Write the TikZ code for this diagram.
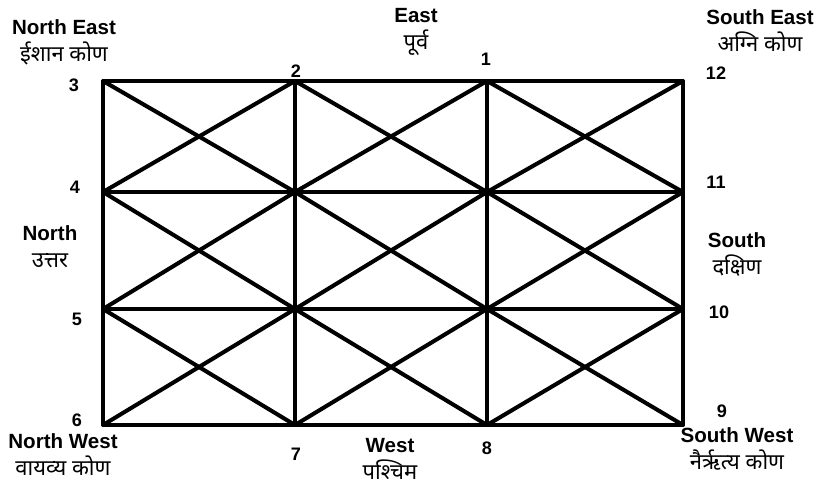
\documentclass[tikz,border=0pt]{standalone}
\usepackage{fontspec}
\setmainfont{Liberation Sans}
\newfontfamily\hindi[Script=Devanagari]{Noto Sans}
\usetikzlibrary{positioning}

\tikzset{
  num/.style={font=\bfseries\fontsize{10.3}{12}\selectfont, inner sep=0pt},
  dirlabel/.style={anchor=north, align=center, inner sep=0pt,
    font=\bfseries\fontsize{11.7}{15.5}\selectfont},
  gridline/.style={line width=1.9pt},
  diag/.style={line width=2.3pt, line cap=round},
}
\newcommand{\hin}[1]{{\hindi\bfseries\fontsize{12.5}{15.5}\selectfont #1}}

\begin{document}
\begin{tikzpicture}[x=0.02cm, y=-0.02cm]
\useasboundingbox (0,0) rectangle (825,485);

% corner points of the 3x3 cells
\foreach \c/\x in {0/103,1/295,2/487,3/683}
  \foreach \r/\y in {0/81,1/192,2/309,3/425}
    \coordinate (p\r\c) at (\x,\y);

% both diagonals in every cell
\foreach \r in {0,1,2}
  \foreach \c in {0,1,2} {
    \pgfmathtruncatemacro\rr{\r+1}
    \pgfmathtruncatemacro\cc{\c+1}
    \draw[diag] (p\r\c) -- (p\rr\cc);
    \draw[diag] (p\rr\c) -- (p\r\cc);
  }

% grid
\foreach \r in {0,...,3} \draw[gridline] (p\r0) -- (p\r3);
\foreach \c in {0,...,3} \draw[gridline] (p0\c) -- (p3\c);

% house numbers
\node[num] (n1) at (486,59) {1};
\node[num] (n2) at (296,71) {2};
\node[num] (n3) at (74,85) {3};
\node[num] (n4) at (75,187) {4};
\node[num] (n5) at (77,319) {5};
\node[num] (n6) at (77,420) {6};
\node[num] (n7) at (296,454) {7};
\node[num] (n8) at (487,448) {8};
\node[num] (n9) at (722,411) {9};
\node[num] (n10) at (719,312) {10};
\node[num] (n11) at (716,182) {11};
\node[num] (n12) at (716,73) {12};

% directions
\node[dirlabel] (ne) at (64,19) {North East\\\hin{ईशान कोण}};
\node[dirlabel] (e) at (416,8) {East\\\hin{पूर्व}};
\node[dirlabel] (se) at (760,9) {South East\\\hin{अग्नि कोण}};
\node[dirlabel] (n) at (50,225) {North\\\hin{उत्तर}};
\node[dirlabel] (s) at (737,232) {South\\\hin{दक्षिण}};
\node[dirlabel] (nw) at (63,433) {North West\\\hin{वायव्य कोण}};
\node[dirlabel] (w) at (390,438) {West\\\hin{पश्चिम}};
\node[dirlabel] (sw) at (737,427) {South West\\\hin{नैर्ऋत्य कोण}};
\end{tikzpicture}
\end{document}
